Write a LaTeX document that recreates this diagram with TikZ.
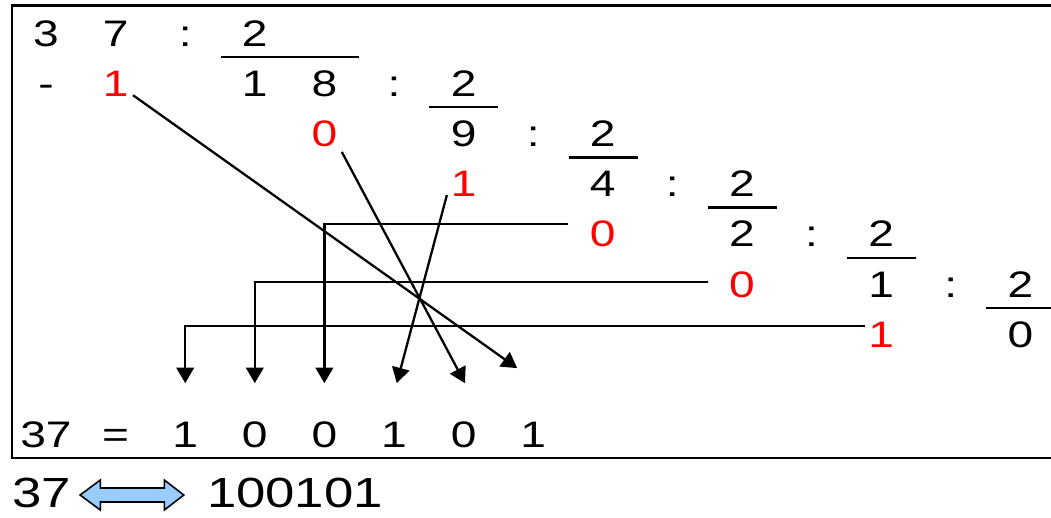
\documentclass[tikz,border=0pt]{standalone}
\usepackage{fontspec}
\setmainfont[FakeStretch=1.25]{Liberation Sans}
\usetikzlibrary{arrows.meta,calc}
\definecolor{flecha}{RGB}{153,204,255}

\begin{document}
\begin{tikzpicture}[x=13.92mm, y=-10.034mm, >={Triangle[length=3.1mm, width=3.5mm]}, line width=1.3pt,
    num/.style={inner sep=0pt, text height=15pt, text depth=0pt, font=\fontsize{21}{25}\selectfont},
    resto/.style={num, text=red}]
  \useasboundingbox (-0.661,-0.658) rectangle (14.44,9.667);
  % marco
  \draw[line width=1.45pt] (-0.489,-0.544) rectangle (14.6,8.471);
  % primera division
  \node[num] (n3) at (0,0) {3};
  \node[num] (n7) at (1,0) {7};
  \node[num] (k0) at (2,0) {:};
  \node[num] (t0) at (3,0) {2};
  \draw (2.51,0.48) -- (4.5,0.48);
  \node[num] (menos) at (0,1) {-};
  \node[resto] (r1) at (1,1) {1};
  \node[num] (d1a) at (3,1) {1};
  \node[num] (d1b) at (4,1) {8};
  \node[num] (k1) at (5,1) {:};
  \node[num] (t1) at (6,1) {2};
  \draw (5.51,1.48) -- (6.5,1.48);
  % divisiones sucesivas
  \foreach \r/\q in {2/9,3/4,4/2,5/1}{
    \node[num] (d\r) at (2*\r+2,\r) {\q};
    \node[num] (k\r) at (2*\r+3,\r) {:};
    \node[num] (t\r) at (2*\r+4,\r) {2};
    \draw (2*\r+3.51,\r+0.48) -- (2*\r+4.5,\r+0.48);
  }
  \node[num] (d6) at (14,6) {0};
  % restos
  \foreach \r/\b in {2/0,3/1,4/0,5/0,6/1}
    \node[resto] (r\r) at (2*\r,\r) {\b};
  % resultado
  \node[num] (lhs) at (0,8) {37};
  \node[num] (igual) at (1,8) {=};
  \foreach \i/\b in {1/1,2/0,3/0,4/1,5/0,6/1}
    \node[num] (b\i) at (\i+1,8) {\b};
  % restos hacia los bits
  \draw[->] ($(r1)+(0.25,0.24)$) -- ($(b6)+(-0.23,-1.32)$);
  \draw[->] ($(r2)+(0.25,0.37)$) -- ($(b5)+(0.02,-1.02)$);
  \draw[->] ($(r3)+(-0.24,0.23)$) -- ($(b4)+(0.04,-1.02)$);
  \draw[->] ($(r4)+(-0.5,-0.19)$) -| ($(b3)+(0,-1.02)$);
  \draw[->] ($(r5)+(-0.49,-0.04)$) -| ($(b2)+(0,-1.02)$);
  \draw[->] ($(r6)+(-0.23,-0.16)$) -| ($(b1)+(0,-1.02)$);
  % equivalencia
  \node[inner sep=0pt, font=\fontsize{24}{28}\selectfont] (dec) at (-0.06,9.169) {37};
  \draw[line width=0.9pt, fill=flecha] (0.49,9.209) -- (0.78,8.91) -- (0.78,9.069) -- (1.70,9.069)
        -- (1.70,8.91) -- (1.98,9.209) -- (1.70,9.508) -- (1.70,9.349)
        -- (0.78,9.349) -- (0.78,9.508) -- cycle;
  \node[inner sep=0pt, font=\fontsize{24}{28}\selectfont] (bin) at (3.577,9.169) {100101};
\end{tikzpicture}
\end{document}
